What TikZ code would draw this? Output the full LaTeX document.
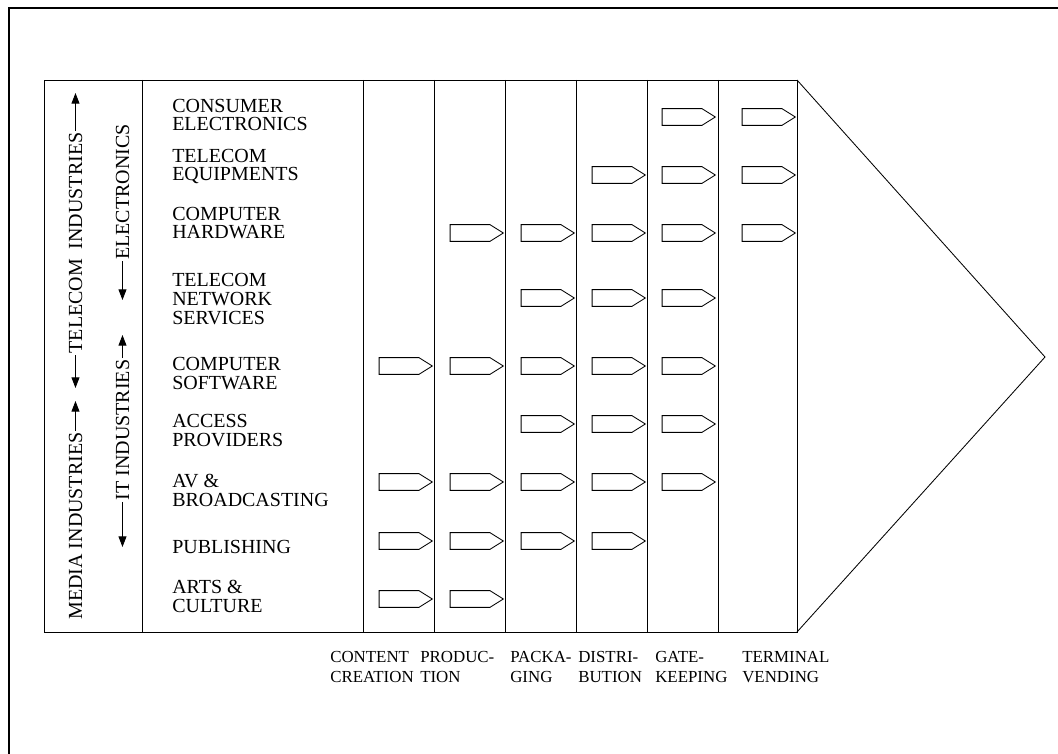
\documentclass[tikz,border=0pt]{standalone}
\usepackage{fontspec}
\setmainfont{Liberation Serif}
\usetikzlibrary{arrows.meta, positioning, shapes.symbols}
\tikzset{
  frameLine/.style={line width=1.6pt, line cap=rect},
  boxLine/.style={line width=0.6pt},
  sideLbl/.style={rotate=90, anchor=base, inner sep=0pt,
                  font=\fontsize{14.2pt}{13.3pt}\selectfont},
  sideArrow/.style={-{Triangle[length=7.5pt, width=5.6pt]}, line width=0.6pt,
                    shorten <=1pt},
  rowLbl/.style={anchor=base west, align=left, inner sep=0pt,
                 font=\fontsize{14.2pt}{13.3pt}\selectfont},
  stageLbl/.style={anchor=base west, align=left, inner sep=0pt,
                   font=\fontsize{12pt}{14.2pt}\selectfont},
  flowArrow/.style={shape=signal, signal to=east, signal pointer angle=64,
                    draw, line width=0.6pt, inner sep=0pt,
                    minimum width=1.33cm, minimum height=0.42cm},
}
\begin{document}
\begin{tikzpicture}[x=0.025cm, y=-0.025cm]
  \useasboundingbox (0,0) rectangle (1058,754);
  %% outer frame (top and left only)
  \draw[frameLine] (9,754) -- (9,8) -- (1058,8);

  %% main block, columns and wedge
  \draw[boxLine] (44,80) rectangle (797,632);
  \foreach \x in {142,363,434,505,576,647,718}
    \draw[boxLine] (\x,80) -- (\x,632);
  \draw[boxLine] (797,80) -- (1045,357) -- (797,632);

  %% vertical industry labels
  \node[sideLbl] (media) at (82,526) {MEDIA INDUSTRIES};
  \node[sideLbl] (telecom) at (82,243) {TELECOM\ \ INDUSTRIES};
  \node[sideLbl] (itind) at (129,430) {IT INDUSTRIES};
  \node[sideLbl] (elec) at (129,192) {ELECTRONICS};
  \coordinate (mediaTip) at (media.east |- 0,401);
  \coordinate (telTop) at (telecom.east |- 0,93);
  \coordinate (telBot) at (telecom.west |- 0,388);
  \coordinate (itTop) at (itind.east |- 0,335);
  \coordinate (itBot) at (itind.west |- 0,547);
  \coordinate (elecBot) at (elec.west |- 0,300);
  \draw[sideArrow] (media.east) -- (mediaTip);
  \draw[sideArrow] (telecom.east) -- (telTop);
  \draw[sideArrow] (telecom.west) -- (telBot);
  \draw[sideArrow] (itind.east) -- (itTop);
  \draw[sideArrow] (itind.west) -- (itBot);
  \draw[sideArrow] (elec.west) -- (elecBot);

  %% sector rows (y = baseline of last line)
  \foreach \txt/\yb [count=\r] in {{CONSUMER\\ELECTRONICS}/131,
      {TELECOM\\EQUIPMENTS}/181, {COMPUTER\\HARDWARE}/239,
      {TELECOM\\NETWORK\\SERVICES}/324, {COMPUTER\\SOFTWARE}/389,
      {ACCESS\\PROVIDERS}/446, {AV \&\\BROADCASTING}/506,
      {PUBLISHING}/553, {ARTS \&\\CULTURE}/612}
    \node[rowLbl] (row\r) at (172,\yb) {\txt};

  %% value chain stages
  \foreach \x [count=\c] in {399,470,541,612,682,762}
    \coordinate (col\c) at (\x,0);
  \foreach \y/\cols [count=\r] in {117/{5,6}, 175/{4,5,6}, 233/{2,3,4,5,6},
      298/{3,4,5}, 366/{1,2,3,4,5}, 424/{3,4,5}, 482/{1,2,3,4,5},
      541/{1,2,3,4}, 599/{1,2}}
    \foreach \c in \cols
      \node[flowArrow] (fa\r-\c) at (col\c |- 0,\y) {};

  \node[stageLbl] (content) at (330,682) {CONTENT\\CREATION};
  \node[stageLbl] (produc) at (420,682) {PRODUC-\\TION};
  \node[stageLbl] (packa) at (510,682) {PACKA-\\GING};
  \node[stageLbl] (distri) at (578,682) {DISTRI-\\BUTION};
  \node[stageLbl] (gate) at (655,682) {GATE-\\KEEPING};
  \node[stageLbl] (term) at (742,682) {TERMINAL\\VENDING};
\end{tikzpicture}
\end{document}
